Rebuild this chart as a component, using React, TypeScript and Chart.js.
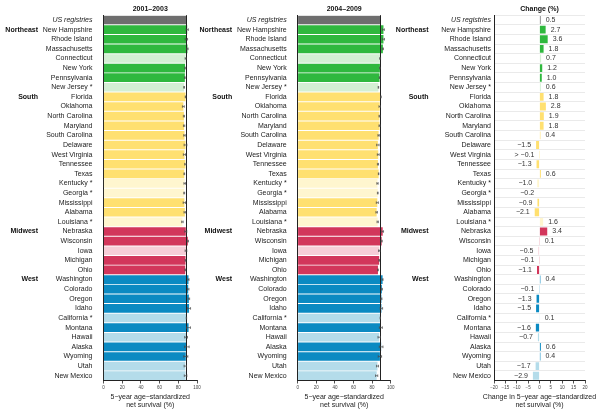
import { useEffect, useRef } from "react";
import { Chart, registerables } from "chart.js";

Chart.register(...registerables);

// ---------------- DATA ----------------
const states = [
  "US registries",
  "New Hampshire", "Rhode Island", "Massachusetts", "Connecticut", "New York", "Pennsylvania", "New Jersey *",
  "Florida", "Oklahoma", "North Carolina", "Maryland", "South Carolina", "Delaware", "West Virginia", "Tennessee",
  "Texas", "Kentucky *", "Georgia *", "Mississippi", "Alabama", "Louisiana *",
  "Nebraska", "Wisconsin", "Iowa", "Michigan", "Ohio",
  "Washington", "Colorado", "Oregon", "Idaho", "California *", "Montana", "Hawaii", "Alaska", "Wyoming", "Utah", "New Mexico",
];

const region = [
  "US",
  "Northeast", "Northeast", "Northeast", "Northeast", "Northeast", "Northeast", "Northeast",
  "South", "South", "South", "South", "South", "South", "South", "South", "South", "South", "South", "South", "South", "South",
  "Midwest", "Midwest", "Midwest", "Midwest", "Midwest",
  "West", "West", "West", "West", "West", "West", "West", "West", "West", "West", "West",
];

const regionNames = ["Northeast", "South", "Midwest", "West"];

// 1 = full-colour group, 0 = pale group
const tier = [
  1,
  1, 1, 1, 0, 1, 1, 0,
  1, 1, 1, 1, 1, 1, 1, 1, 1, 0, 0, 1, 1, 0,
  1, 1, 0, 1, 1,
  1, 1, 1, 1, 0, 1, 0, 1, 1, 0, 0,
];

const survival2001 = [
  88.4,
  89.5, 88.6, 89.8, 87.9, 87.2, 87.0, 86.2,
  87.7, 85.4, 86.0, 86.2, 86.6, 87.7, 86.6, 87.6, 86.4, 86.8, 86.3, 86.5, 87.0, 84.4,
  88.0, 90.2, 88.2, 87.7, 87.4,
  90.9, 90.6, 91.3, 91.5, 88.7, 91.0, 88.3, 89.1, 88.0, 87.5, 87.8,
];

const err2001 = [
  0.2,
  1.2, 1.3, 0.7, 0.6, 0.3, 0.4, 0.4,
  0.3, 1.0, 0.6, 0.7, 0.8, 1.5, 1.2, 0.8, 0.4, 0.8, 0.5, 1.3, 0.9, 0.8,
  1.1, 0.7, 0.9, 0.4, 0.4,
  0.6, 0.8, 0.8, 1.6, 0.2, 2.0, 1.5, 2.5, 2.2, 1.3, 1.4,
];

const survival2004 = [
  88.9,
  92.2, 92.2, 91.6, 88.6, 88.4, 88.0, 86.8,
  89.5, 88.2, 87.9, 88.0, 87.0, 86.2, 86.6, 86.3, 87.0, 85.8, 86.1, 85.6, 84.9, 86.0,
  91.4, 90.3, 87.7, 87.6, 86.3,
  91.3, 90.5, 90.0, 90.0, 88.8, 89.4, 87.6, 89.7, 88.4, 85.8, 84.9,
];

const err2004 = [
  0.2,
  1.0, 1.1, 0.6, 0.5, 0.3, 0.3, 0.3,
  0.3, 0.8, 0.5, 0.6, 0.7, 1.3, 1.0, 0.6, 0.3, 0.7, 0.4, 1.1, 0.8, 0.7,
  0.9, 0.6, 0.8, 0.4, 0.4,
  0.5, 0.6, 0.6, 1.3, 0.2, 1.6, 1.3, 2.0, 1.8, 1.1, 1.2,
];

const change = [
  0.5,
  2.7, 3.6, 1.8, 0.7, 1.2, 1.0, 0.6,
  1.8, 2.8, 1.9, 1.8, 0.4, -1.5, -0.05, -1.3, 0.6, -1.0, -0.2, -0.9, -2.1, 1.6,
  3.4, 0.1, -0.5, -0.1, -1.1,
  0.4, -0.1, -1.3, -1.5, 0.1, -1.6, -0.7, 0.6, 0.4, -1.7, -2.9,
];

const changeLabels = [
  "0.5",
  "2.7", "3.6", "1.8", "0.7", "1.2", "1.0", "0.6",
  "1.8", "2.8", "1.9", "1.8", "0.4", "−1.5", "> −0.1", "−1.3", "0.6", "−1.0", "−0.2", "−0.9", "−2.1", "1.6",
  "3.4", "0.1", "−0.5", "−0.1", "−1.1",
  "0.4", "−0.1", "−1.3", "−1.5", "0.1", "−1.6", "−0.7", "0.6", "0.4", "−1.7", "−2.9",
];

const survivalTicks = [0, 20, 40, 60, 80, 100];
const changeTicks = [-20, -15, -10, -5, 0, 5, 10, 15, 20];

// ---------------- STYLE ----------------
const FONT = "'Liberation Sans', Arial, Helvetica, sans-serif";
const PALETTE: Record<string, string[]> = {
  US: ["#6e6e6e", "#6e6e6e"],
  Northeast: ["#d4efd4", "#2fb83e"],
  South: ["#fff6cf", "#ffe070"],
  Midwest: ["#f6cdd7", "#d2365b"],
  West: ["#b4dcea", "#0b8ac2"],
};
const barColors = states.map((_, i) => PALETTE[region[i]][tier[i]]);

type PanelSpec = {
  left: number;
  width: number;
  yWidth: number;
  padRight: number;
  values: number[];
  errors?: number[];
  labels?: string[];
  refValue?: number;
  title: string;
  axisTitle: string[];
  ticks: number[];
  min: number;
  max: number;
  gridY: boolean;
  barPct: number;
};

const H = 415;

function makeChart(canvas: HTMLCanvasElement, spec: PanelSpec) {
  const overlay = {
    id: "overlay",
    afterDatasetsDraw(chart: any) {
      const ctx = chart.ctx as CanvasRenderingContext2D;
      const xs = chart.scales.x;
      const ys = chart.scales.y;
      const area = chart.chartArea;
      ctx.save();
      if (spec.refValue !== undefined) {
        const px = Math.round(xs.getPixelForValue(spec.refValue)) + 0.5;
        ctx.strokeStyle = "#222";
        ctx.lineWidth = 1;
        ctx.beginPath();
        ctx.moveTo(px, area.top);
        ctx.lineTo(px, area.bottom);
        ctx.stroke();
      }
      if (spec.errors) {
        ctx.strokeStyle = "#4a4a4a";
        ctx.lineWidth = 0.7;
        spec.values.forEach((v, i) => {
          if (i === 0) return;
          const e = spec.errors![i];
          const cy = ys.getPixelForValue(i);
          const x1 = xs.getPixelForValue(v - e);
          const x2 = xs.getPixelForValue(v + e);
          ctx.beginPath();
          ctx.moveTo(x1, cy);
          ctx.lineTo(x2, cy);
          ctx.moveTo(x1, cy - 1.3);
          ctx.lineTo(x1, cy + 1.3);
          ctx.moveTo(x2, cy - 1.3);
          ctx.lineTo(x2, cy + 1.3);
          ctx.stroke();
        });
      }
      if (spec.labels) {
        ctx.fillStyle = "#333";
        ctx.font = `7px ${FONT}`;
        ctx.textBaseline = "middle";
        spec.values.forEach((v, i) => {
          const cy = ys.getPixelForValue(i);
          if (v >= 0) {
            ctx.textAlign = "left";
            ctx.fillText(spec.labels![i], xs.getPixelForValue(v) + 5, cy);
          } else {
            ctx.textAlign = "right";
            ctx.fillText(spec.labels![i], xs.getPixelForValue(v) - 5, cy);
          }
        });
      }
      ctx.restore();
    },
    afterDraw(chart: any) {
      const ctx = chart.ctx as CanvasRenderingContext2D;
      const ys = chart.scales.y;
      const area = chart.chartArea;
      const cx = (area.left + area.right) / 2;
      ctx.save();
      ctx.fillStyle = "#111";
      ctx.textBaseline = "middle";
      ctx.textAlign = "center";
      ctx.font = `bold 7px ${FONT}`;
      ctx.fillText(spec.title, cx, 9.5);
      // region labels
      ctx.textAlign = "right";
      regionNames.forEach((name) => {
        const idx = region.indexOf(name);
        ctx.fillText(name, area.left - 65.5, ys.getPixelForValue(idx));
      });
      // axis title
      ctx.textAlign = "center";
      ctx.font = `7px ${FONT}`;
      ctx.fillStyle = "#222";
      spec.axisTitle.forEach((line, k) => {
        ctx.fillText(line, cx, 397.5 + k * 8);
      });
      ctx.restore();
    },
  };

  return new Chart(canvas, {
    type: "bar",
    data: {
      labels: states,
      datasets: [
        {
          data: spec.values,
          backgroundColor: barColors,
          borderWidth: 0,
          barPercentage: spec.barPct,
          categoryPercentage: 1,
        },
      ],
    },
    options: {
      indexAxis: "y",
      animation: false,
      responsive: false,
      devicePixelRatio: 1,
      layout: { padding: { top: 15.2, right: spec.padRight, left: 0, bottom: 0 } },
      plugins: { legend: { display: false }, tooltip: { enabled: false } },
      scales: {
        x: {
          type: "linear",
          min: spec.min,
          max: spec.max,
          afterBuildTicks: (s: any) => {
            s.ticks = spec.ticks.map((v) => ({ value: v }));
          },
          afterFit: (s: any) => {
            s.height = 34.5;
          },
          ticks: {
            font: { size: 4.5, family: FONT },
            color: "#444",
            padding: 1.5,
            maxRotation: 0,
            autoSkip: false,
            callback: (v: any) => String(v).replace("-", "−"),
          },
          grid: { display: true, drawOnChartArea: false, drawTicks: true, tickLength: 3, color: "#222", lineWidth: 0.8 },
          border: { display: true, color: "#222", width: 1 },
        },
        y: {
          type: "category",
          afterFit: (s: any) => {
            s.width = spec.yWidth;
          },
          ticks: {
            autoSkip: false,
            padding: 3,
            color: "#222",
            font: (c: any) => ({ size: 7, family: FONT, style: c.index === 0 ? "italic" : "normal" }),
          },
          grid: spec.gridY
            ? { display: true, drawTicks: false, color: "#e4e4e4", lineWidth: 0.8 }
            : { display: false },
          border: { display: true, color: "#222", width: 1 },
        },
      },
    } as any,
    plugins: [overlay],
  });
}

const panels: PanelSpec[] = [
  {
    left: 0, width: 210, yWidth: 103.5, padRight: 13,
    values: survival2001, errors: err2001, refValue: survival2001[0],
    title: "2001–2003", axisTitle: ["5−year age−standardized", "net survival (%)"],
    ticks: survivalTicks, min: 0, max: 100, gridY: false, barPct: 0.9,
  },
  {
    left: 195, width: 210, yWidth: 102.7, padRight: 14.3,
    values: survival2004, errors: err2004, refValue: survival2004[0],
    title: "2004–2009", axisTitle: ["5−year age−standardized", "net survival (%)"],
    ticks: survivalTicks, min: 0, max: 100, gridY: false, barPct: 0.9,
  },
  {
    left: 390, width: 214, yWidth: 104, padRight: 19,
    values: change, labels: changeLabels,
    title: "Change (%)", axisTitle: ["Change in 5−year age−standardized", "net survival (%)"],
    ticks: changeTicks, min: -20, max: 20, gridY: true, barPct: 0.82,
  },
];

function Panel({ spec }: { spec: PanelSpec }) {
  const ref = useRef<HTMLCanvasElement | null>(null);
  useEffect(() => {
    if (!ref.current) return;
    const chart = makeChart(ref.current, spec);
    return () => chart.destroy();
  }, [spec]);
  return (
    <canvas
      ref={ref}
      width={spec.width}
      height={H}
      style={{ position: "absolute", left: spec.left, top: 0, width: spec.width, height: H }}
    />
  );
}

export default function App() {
  return (
    <div style={{ position: "absolute", left: 0, top: 0, width: 604, height: H, background: "#fff", overflow: "hidden" }}>
      {panels.map((p, i) => (
        <Panel key={i} spec={p} />
      ))}
    </div>
  );
}
